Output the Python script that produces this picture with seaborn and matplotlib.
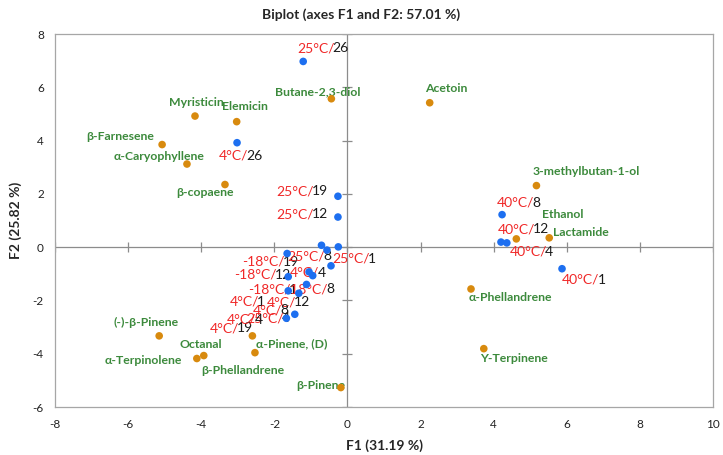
import matplotlib
matplotlib.use("Agg")
import matplotlib.pyplot as plt
import seaborn as sns
import pandas as pd

# ---------------- data ----------------
var_names = ["Acetoin", "Butane-2,3-diol", "Myristicin", "Elemicin", "β-Farnesene",
             "α-Caryophyllene", "β-copaene", "3-methylbutan-1-ol", "Ethanol", "Lactamide",
             "α-Phellandrene", "Y-Terpinene", "(-)-β-Pinene", "Octanal", "α-Terpinolene",
             "α-Pinene, (D)", "β-Phellandrene", "β-Pinene"]
var_f1 = [2.25, -0.44, -4.17, -3.03, -5.07, -4.39, -3.35, 5.17, 4.62, 5.52,
          3.38, 3.73, -5.15, -3.93, -4.12, -2.60, -2.53, -0.18]
var_f2 = [5.42, 5.57, 4.92, 4.71, 3.85, 3.12, 2.35, 2.31, 0.31, 0.35,
          -1.57, -3.81, -3.33, -4.07, -4.18, -3.33, -3.96, -5.27]

obs_temp = ["25°C/", "4°C/", "25°C/", "25°C/", "40°C/", "40°C/", "40°C/", "40°C/",
            "-18°C/", "25°C/", "25°C/", "-18°C/", "4°C/", "4°C/", "-18°C/", "-18°C/",
            "4°C/", "4°C/", "25°C/", "4°C/", "4°C/"]
obs_time = ["26", "26", "19", "12", "8", "12", "4", "1",
            "19", "8", "1", "12", "4", "1", "1", "8",
            "12", "8", "4", "19", "4"]
obs_f1 = [-1.21, -3.02, -0.26, -0.26, 4.23, 4.20, 4.36, 5.87,
          -1.65, -0.71, -0.25, -1.62, -1.05, -0.95, -1.62, -1.12,
          -1.33, -1.44, -1.67, -0.56, -0.45]
obs_f2 = [6.97, 3.92, 1.91, 1.13, 1.22, 0.19, 0.16, -0.81,
          -0.24, 0.07, 0.01, -1.11, -0.93, -1.07, -1.64, -1.40,
          -1.73, -2.52, -2.67, -0.11, -0.70]

x_ticks = [-8, -6, -4, -2, 0, 2, 4, 6, 8, 10]
y_ticks = [-6, -4, -2, 0, 2, 4, 6, 8]

title = "Biplot (axes F1 and F2: 57.01 %)"
xlabel = "F1 (31.19 %)"
ylabel = "F2 (25.82 %)"

# ---------------- label placement (pixels) ----------------
var_off = [(17, 14), (-14, 7), (1, 14), (8, 15), (-42, 8), (-28, 8), (-20, -8), (50, 14),
           (46, 24), (32, 5), (39, -9), (30, -10), (-13, 13), (-3, 11), (-54, -2),
           (39, -8), (-12, -18), (-20, 2)]
obs_off = [(-6, 13), (-18, -13), (-62, 5), (-62, 3), (-5, 12), (-3, 13), (3, -9), (0, -11),
           (-45, -8), (-34, -11), (-6, -12), (-54, 2), (-19, -1), (-83, -26), (-40, 1),
           (-21, -5), (-32, -9), (-42, 4), (-40, 0), (-117, -78), (-104, -54)]

# ---------------- styling ----------------
sns.set_theme(style="white")
plt.rcParams["font.family"] = ["Lato", "DejaVu Sans"]

ORANGE = "#d88a0e"
BLUE = "#1d6ff0"
GREEN = "#3c8a3c"
RED = "#f02828"
DARK = "#1a1a1a"
FRAME = "#a6a6a6"

fig = plt.figure(figsize=(7.23, 4.55), dpi=100)
ax = fig.add_axes([55 / 723, 1 - 407 / 455, (713 - 55) / 723, (407 - 34) / 455])

vars_df = pd.DataFrame({"F1": var_f1, "F2": var_f2, "name": var_names})
obs_df = pd.DataFrame({"F1": obs_f1, "F2": obs_f2, "temp": obs_temp, "time": obs_time})

# zero axes with crossing tick marks
ax.axhline(0, color="#8c8c8c", lw=0.9, zorder=1)
ax.axvline(0, color="#8c8c8c", lw=0.9, zorder=1)
ax.plot(x_ticks, [0] * len(x_ticks), ls="none", marker="|", ms=7, mew=0.9, color="#8c8c8c", zorder=1)
ax.plot([0] * len(y_ticks), y_ticks, ls="none", marker="_", ms=7, mew=0.9, color="#8c8c8c", zorder=1)

sns.scatterplot(data=vars_df, x="F1", y="F2", color=ORANGE, s=30, edgecolor="none", ax=ax, zorder=4)
sns.scatterplot(data=obs_df, x="F1", y="F2", color=BLUE, s=30, edgecolor="none", ax=ax, zorder=4)

for (n, x, y), (dx, dy) in zip(zip(var_names, var_f1, var_f2), var_off):
    ax.annotate(n, (x, y), xytext=(dx, dy), textcoords="offset pixels",
                ha="center", va="center", color=GREEN, fontsize=8.8, fontweight="bold", zorder=3)

for (t, d, x, y), (dx, dy) in zip(zip(obs_temp, obs_time, obs_f1, obs_f2), obs_off):
    red = ax.annotate(t, (x, y), xytext=(dx, dy), textcoords="offset pixels",
                      ha="left", va="center", color=RED, fontsize=10, zorder=3)
    ax.annotate(d, xy=(1, 0.5), xycoords=red, xytext=(-2, 0), textcoords="offset pixels",
                ha="left", va="center", color=DARK, fontsize=10, zorder=3)

ax.set_xlim(-8, 10)
ax.set_ylim(-6, 8)
ax.set_xticks(x_ticks)
ax.set_yticks(y_ticks)
ax.set_xticklabels([str(v) for v in x_ticks])
ax.set_yticklabels([str(v) for v in y_ticks])
ax.tick_params(axis="both", length=0, labelsize=8.5, colors="#222222")
ax.tick_params(axis="x", pad=9)
ax.tick_params(axis="y", pad=8)
for sp in ax.spines.values():
    sp.set_color(FRAME)
    sp.set_linewidth(0.9)

ax.set_xlabel(xlabel, fontsize=10, fontweight="bold", labelpad=6)
ax.set_ylabel(ylabel, fontsize=10, fontweight="bold", labelpad=8)
fig.text(0.5, 1 - 15 / 455, title, ha="center", va="center", fontsize=10, fontweight="bold")

fig.savefig("out.png", dpi=100)
